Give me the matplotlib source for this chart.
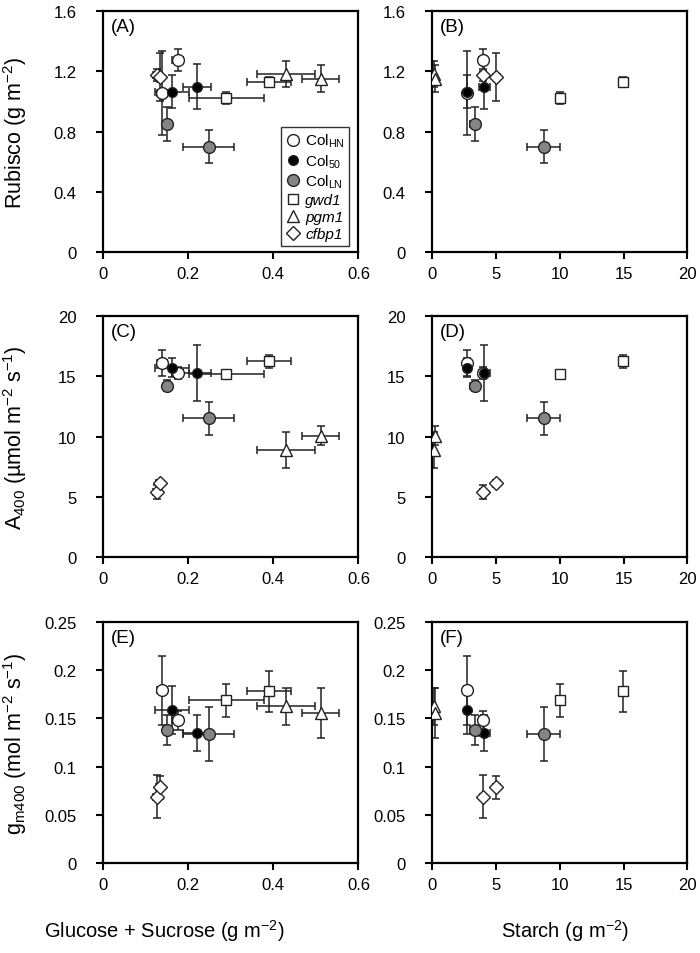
import matplotlib
matplotlib.use('Agg')
import matplotlib.pyplot as plt
from matplotlib.ticker import FuncFormatter
from matplotlib.lines import Line2D

plt.rcParams['font.family'] = ['Liberation Sans', 'DejaVu Sans']
plt.rcParams['mathtext.fontset'] = 'custom'
plt.rcParams['mathtext.rm'] = 'Liberation Sans'
plt.rcParams['mathtext.it'] = 'Liberation Sans:italic'

# one entry per point (two per genotype)
genotype = ['ColHN', 'ColHN', 'Col50', 'Col50', 'ColLN', 'ColLN',
            'gwd1', 'gwd1', 'pgm1', 'pgm1', 'cfbp1', 'cfbp1']

glc_suc = [0.176, 0.139, 0.162, 0.222, 0.151, 0.248, 0.290, 0.390, 0.430, 0.511, 0.126, 0.133]
glc_suc_err = [0.013, 0.012, 0.040, 0.033, 0.010, 0.059, 0.088, 0.051, 0.067, 0.043, 0.008, 0.008]

starch = [4.0, 2.72, 2.75, 4.1, 3.35, 8.75, 10.0, 14.95, 0.15, 0.25, 4.0, 5.05]
starch_err = [0.3, 0.2, 0.15, 0.45, 0.35, 1.28, 0.25, 0.25, 0.1, 0.1, 0.2, 0.3]

rubisco = [1.275, 1.054, 1.065, 1.098, 0.85, 0.70, 1.02, 1.131, 1.18, 1.15, 1.175, 1.16]
rubisco_err = [0.07, 0.28, 0.11, 0.15, 0.11, 0.11, 0.04, 0.03, 0.085, 0.09, 0.04, 0.16]

a400 = [15.27, 16.1, 15.7, 15.27, 14.22, 11.5, 15.15, 16.25, 8.85, 10.07, 5.4, 6.1]
a400_err = [0.5, 1.07, 0.8, 2.3, 0.45, 1.4, 0.4, 0.55, 1.5, 0.8, 0.55, 0.3]

gm400 = [0.148, 0.179, 0.159, 0.135, 0.138, 0.134, 0.169, 0.178, 0.1625, 0.156, 0.069, 0.0785]
gm400_err = [0.01, 0.036, 0.025, 0.019, 0.016, 0.028, 0.017, 0.021, 0.019, 0.026, 0.022, 0.012]

legend_labels = [r'Col$_{\mathrm{HN}}$', r'Col$_{\mathrm{50}}$', r'Col$_{\mathrm{LN}}$',
                 'gwd1', 'pgm1', 'cfbp1']

styles = {
    'ColHN': dict(marker='o', mfc='white', ms=8.5),
    'Col50': dict(marker='o', mfc='black', ms=7),
    'ColLN': dict(marker='o', mfc='#858585', ms=8.5),
    'gwd1': dict(marker='s', mfc='white', ms=7.5),
    'pgm1': dict(marker='^', mfc='white', ms=9),
    'cfbp1': dict(marker='D', mfc='white', ms=7),
}

fig = plt.figure(figsize=(7, 9.54), dpi=100)

rows = [
    (rubisco, rubisco_err, (0, 1.6), [0, 0.4, 0.8, 1.2, 1.6], 'Rubisco (g m$^{-2}$)'),
    (a400, a400_err, (0, 20), [0, 5, 10, 15, 20], r'A$_{\mathrm{400}}$ (µmol m$^{-2}$ s$^{-1}$)'),
    (gm400, gm400_err, (0, 0.25), [0, 0.05, 0.1, 0.15, 0.2, 0.25], r'g$_{\mathrm{m400}}$ (mol m$^{-2}$ s$^{-1}$)'),
]
cols = [
    (glc_suc, glc_suc_err, (0, 0.6), [0, 0.2, 0.4, 0.6], 'Glucose + Sucrose (g m$^{-2}$)', 0.24),
    (starch, starch_err, (0, 20), [0, 5, 10, 15, 20], 'Starch (g m$^{-2}$)', 0.52),
]
lefts = [0.147, 0.617]
bottoms = [0.7348, 0.4151, 0.0943]
w, h = 0.365, 0.2526
fmt = FuncFormatter(lambda v, p: '%g' % v)
panel = 'ABCDEF'

for r, (yv, ye, ylim, yticks, ylabel) in enumerate(rows):
    for c, (xv, xe, xlim, xticks, xlabel, xlab_pos) in enumerate(cols):
        ax = fig.add_axes([lefts[c], bottoms[r], w, h])
        ax.errorbar(xv, yv, xerr=xe, yerr=ye, fmt='none', ecolor='#222222',
                    elinewidth=1.1, capsize=3, capthick=1.1, zorder=2)
        for i, g in enumerate(genotype):
            st = styles[g]
            ax.plot(xv[i], yv[i], linestyle='none', marker=st['marker'],
                    mfc=st['mfc'], mec='#222222', mew=1.0, ms=st['ms'], zorder=3)
        ax.set_xlim(xlim)
        ax.set_ylim(ylim)
        ax.set_xticks(xticks)
        ax.set_yticks(yticks)
        ax.xaxis.set_major_formatter(fmt)
        ax.yaxis.set_major_formatter(fmt)
        ax.tick_params(direction='out', length=5, width=1.5, labelsize=12,
                       top=False, right=False)
        ax.tick_params(axis='x', pad=5)
        ax.tick_params(axis='y', pad=14)
        for sp in ax.spines.values():
            sp.set_linewidth(1.6)
        ax.text(0.03, 0.97, '(%s)' % panel[r * 2 + c], transform=ax.transAxes,
                fontsize=13.5, va='top', ha='left')
        if c == 0:
            ax.set_ylabel(ylabel, fontsize=15.5)
            ax.yaxis.set_label_coords(-0.29, 0.5)
        if r == 2:
            ax.set_xlabel(xlabel, fontsize=14.5)
            ax.xaxis.set_label_coords(xlab_pos, -0.225)
        if r == 0 and c == 0:
            handles = []
            for g, lab in zip(styles, legend_labels):
                st = styles[g]
                handles.append(Line2D([], [], linestyle='none', marker=st['marker'],
                                      mfc=st['mfc'], mec='#222222', mew=1.0,
                                      ms=st['ms'], label=lab))
            leg = ax.legend(handles=handles, loc='lower right',
                            bbox_to_anchor=(0.965, 0.025), borderaxespad=0,
                            fontsize=11, frameon=True, fancybox=False,
                            edgecolor='black', handletextpad=0.3,
                            handlelength=1.0, labelspacing=0.2,
                            borderpad=0.3)
            leg.get_frame().set_linewidth(1.0)
            for t in leg.get_texts()[3:]:
                t.set_fontstyle('italic')

fig.savefig('out.png', dpi=100)
